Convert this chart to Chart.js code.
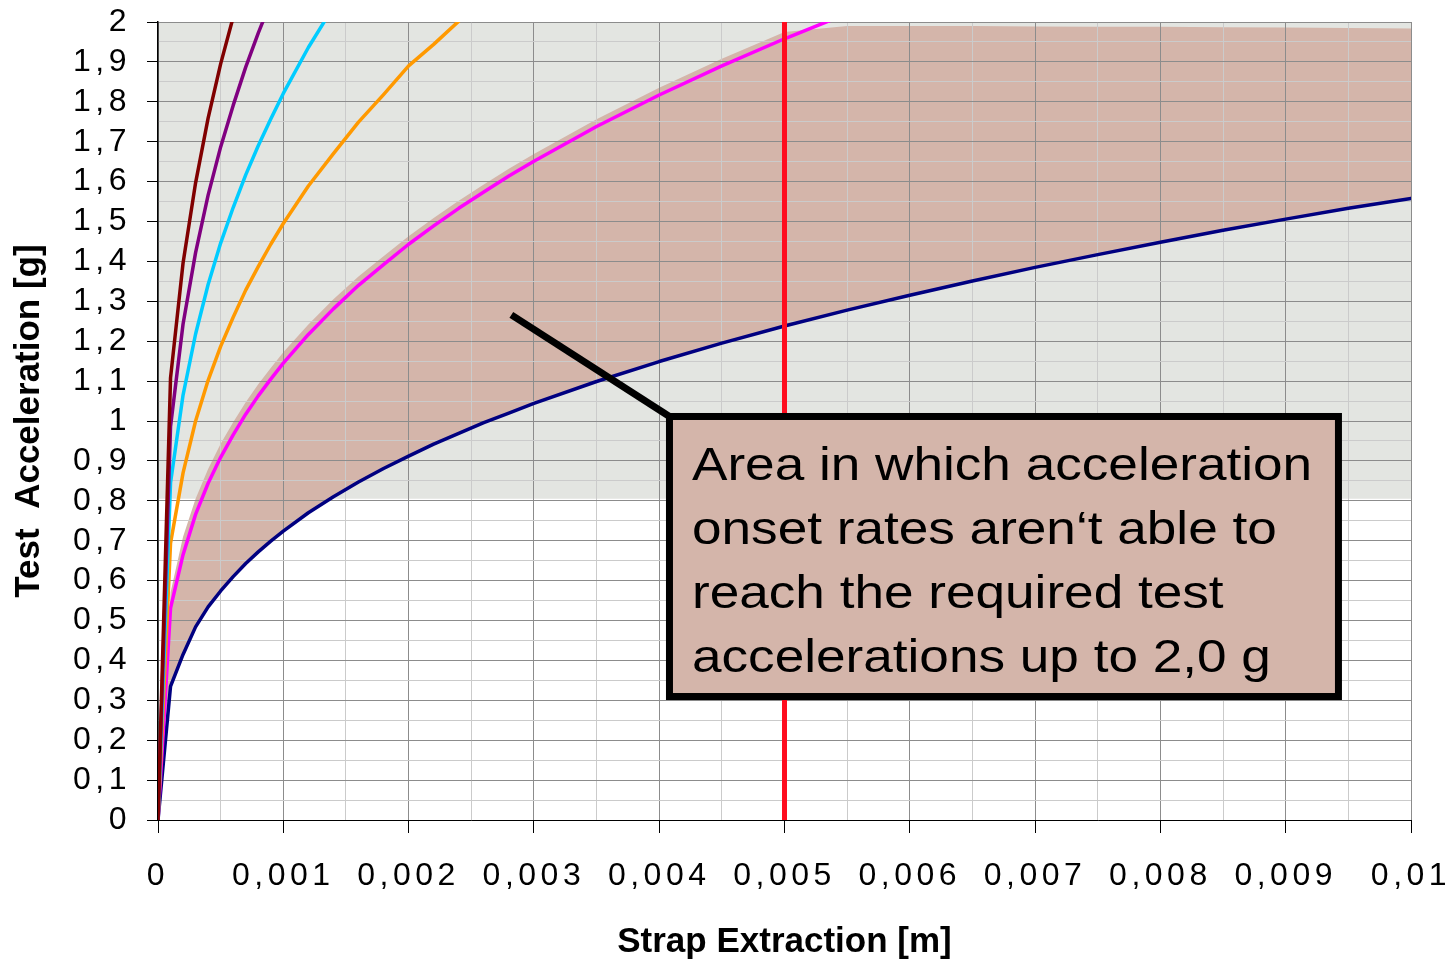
<html>
<head>
<style>body{margin:0;background:#fff}</style>
</head>
<body>
<canvas id="myChart" width="1450" height="963"></canvas>
<script src="https://cdn.jsdelivr.net/npm/chart.js@4.4.0/dist/chart.umd.min.js"></script>
<script>
// strap extraction [m] - shared x positions of the curves
const xs = [0, 0.0001, 0.0002, 0.0003, 0.0004, 0.0005, 0.0006, 0.0007, 0.0008, 0.0009,
            0.001, 0.0012, 0.0014, 0.0016, 0.0018, 0.002, 0.0022, 0.0024, 0.0026, 0.0028,
            0.003, 0.0035, 0.004, 0.0045, 0.005, 0.0055, 0.006, 0.0065, 0.007, 0.0075,
            0.008, 0.0085, 0.009, 0.0095, 0.01];

// test acceleration [g] (curves stop once past 2 g)
const yMaroon  = [0, 1.108, 1.396, 1.597, 1.759, 1.895, 2.012];
const yPurple  = [0, 0.986, 1.243, 1.422, 1.566, 1.687, 1.791, 1.887, 1.972, 2.051];
const yCyan    = [0, 0.845, 1.065, 1.218, 1.342, 1.446, 1.535, 1.617, 1.690, 1.757,
                  1.821, 1.936, 2.038];
const yOrange  = [0, 0.694, 0.870, 1.000, 1.102, 1.187, 1.260, 1.328, 1.387, 1.443,
                  1.495, 1.589, 1.670, 1.749, 1.818, 1.890, 1.944, 2.002];
const yMagenta = [0, 0.531, 0.665, 0.766, 0.844, 0.909, 0.965, 1.017, 1.063, 1.105,
                  1.145, 1.217, 1.281, 1.340, 1.392, 1.443, 1.489, 1.533, 1.574, 1.614,
                  1.651, 1.738, 1.817, 1.890, 1.958, 2.021];
const yNavy    = [0, 0.335, 0.415, 0.484, 0.534, 0.574, 0.610, 0.643, 0.672, 0.699,
                  0.724, 0.770, 0.810, 0.847, 0.881, 0.912, 0.942, 0.969, 0.996, 1.020,
                  1.044, 1.099, 1.149, 1.195, 1.238, 1.278, 1.315, 1.351, 1.385, 1.417,
                  1.448, 1.478, 1.506, 1.533, 1.558];
// upper edge of the shaded (brown) band, lower edge is the navy curve
const yBandTop = [0, 0.570, 0.710, 0.805, 0.880, 0.943, 0.997, 1.047, 1.092, 1.133,
                  1.172, 1.242, 1.305, 1.362, 1.413, 1.463, 1.509, 1.552, 1.593, 1.632,
                  1.669, 1.756, 1.835, 1.908, 1.975, 1.990, 1.990, 1.990, 1.989, 1.988,
                  1.988, 1.987, 1.986, 1.985, 1.984];

// grey zone 0,8..2 g and the red limit at 5 mm
const greyX = [0, 0.01];
const greyTop = [2, 2];
const greyBottom = [0.805, 0.805];
const redX = [0.005, 0.005];
const redY = [0, 2];

const xTickLabels = ['0', '0,001', '0,002', '0,003', '0,004', '0,005', '0,006', '0,007', '0,008', '0,009', '0,01'];
const yTickLabels = ['0', '0,1', '0,2', '0,3', '0,4', '0,5', '0,6', '0,7', '0,8', '0,9', '1',
                     '1,1', '1,2', '1,3', '1,4', '1,5', '1,6', '1,7', '1,8', '1,9', '2'];
const calloutText = ['Area in which acceleration', 'onset rates aren‘t able to',
                     'reach the required test', 'accelerations up to 2,0 g'];

function pts(ys, xv) {
    xv = xv || xs;
    return ys.map((v, i) => ({x: xv[i], y: v}));
}
function isMajor(v, f) { return Math.abs(v * f - Math.round(v * f)) < 1e-6; }

const FONT = '"Liberation Sans", Arial, sans-serif';
Chart.defaults.font.family = FONT;
Chart.defaults.color = '#000';

function line(data, color, w) {
    return {data: data, borderColor: color, borderWidth: w, pointRadius: 0, fill: false,
            borderJoinStyle: 'round', borderCapStyle: 'round'};
}
// fixed axis sizes so the plot area sits where it does in the picture
function fixSize(s, w, h) {
    if (w) s.width = w;
    if (h) s.height = h;
    s.paddingTop = 0; s.paddingBottom = 0; s.paddingLeft = 0; s.paddingRight = 0;
}

// tick labels in the picture are drawn with wide letter spacing
const tickSpacing = {
    id: 'tickSpacing',
    beforeDraw(chart) {
        Object.values(chart.scales).forEach(s => {
            if (s._spaced) return;
            const orig = s.drawLabels.bind(s);
            s.drawLabels = function(area) {
                chart.ctx.save();
                chart.ctx.letterSpacing = '4.5px';
                orig(area);
                chart.ctx.restore();
            };
            s._spaced = true;
        });
    }
};

// text box with its pointer
const callout = {
    id: 'callout',
    afterDatasetsDraw(chart) {
        const ctx = chart.ctx, sx = chart.scales.x, sy = chart.scales.y;
        const l = sx.getPixelForValue(0.004082), r = sx.getPixelForValue(0.009421);
        const t = sy.getPixelForValue(1.0113), b = sy.getPixelForValue(0.3095);
        ctx.save();
        ctx.strokeStyle = '#000';
        ctx.lineWidth = 7;
        ctx.beginPath();
        ctx.moveTo(sx.getPixelForValue(0.00282), sy.getPixelForValue(1.266));
        ctx.lineTo(l, t);
        ctx.stroke();
        ctx.fillStyle = '#d4b5aa';
        ctx.fillRect(l, t, r - l, b - t);
        ctx.strokeRect(l, t, r - l, b - t);
        ctx.fillStyle = '#000';
        ctx.font = '46px ' + FONT;
        ctx.textBaseline = 'alphabetic';
        calloutText.forEach((txt, i) => {
            ctx.save();
            ctx.translate(l + 22.5, t + 63.5 + i * 64);
            ctx.scale(1.155, 1);
            ctx.fillText(txt, 0, 0);
            ctx.restore();
        });
        ctx.restore();
    }
};

const ctx = document.getElementById('myChart').getContext('2d');
const myChart = new Chart(ctx, {
    type: 'line',
    data: {
        datasets: [
            line(pts(redY, redX), '#ff0d1f', 5),       // 0
            line(pts(yMaroon), '#800000', 3.5),        // 1
            line(pts(yPurple), '#800080', 3.5),        // 2
            line(pts(yCyan), '#00ccff', 3.5),          // 3
            line(pts(yOrange), '#ff9900', 3.5),        // 4
            line(pts(yMagenta), '#ff00ff', 3.5),       // 5
            line(pts(yNavy), '#000080', 3.5),          // 6
            {data: pts(yBandTop), borderWidth: 0, pointRadius: 0, backgroundColor: '#d4b5aa', fill: 6},
            {data: pts(greyTop, greyX), borderWidth: 0, pointRadius: 0, backgroundColor: '#e3e5e1', fill: 9},
            {data: pts(greyBottom, greyX), borderWidth: 0, pointRadius: 0, fill: false}
        ]
    },
    options: {
        responsive: false,
        animation: false,
        layout: {padding: {top: 22, right: 39, left: 0, bottom: 0}},
        plugins: {
            legend: {display: false},
            tooltip: {enabled: false},
            filler: {drawTime: 'beforeDraw', propagate: false}
        },
        scales: {
            x: {
                type: 'linear', min: 0, max: 0.01,
                afterFit(s) { fixSize(s, 0, 143); },
                ticks: {
                    stepSize: 0.0005, autoSkip: false, maxRotation: 0, padding: 24,
                    font: {size: 32},
                    callback: v => isMajor(v, 1000) ? xTickLabels[Math.round(v * 1000)] : ''
                },
                grid: {
                    color: c => isMajor(c.tick.value, 1000) ? '#8c8c8c' : '#cbcbcb',
                    tickColor: c => isMajor(c.tick.value, 1000) ? '#000' : 'rgba(0,0,0,0)',
                    tickLength: 13
                },
                border: {color: '#000', width: 1},
                title: {display: true, text: 'Strap Extraction [m]', font: {size: 35, weight: 'bold'},
                        padding: {top: 0, bottom: 0}}
            },
            y: {
                type: 'linear', min: 0, max: 2,
                afterFit(s) { fixSize(s, 158, 0); },
                ticks: {
                    stepSize: 0.05, autoSkip: false, padding: 16,
                    font: {size: 32},
                    callback: v => isMajor(v, 10) ? yTickLabels[Math.round(v * 10)] : ''
                },
                grid: {
                    color: c => isMajor(c.tick.value, 10) ? '#8c8c8c' : '#cbcbcb',
                    tickColor: c => isMajor(c.tick.value, 10) ? '#000' : 'rgba(0,0,0,0)',
                    tickLength: 11
                },
                border: {color: '#000', width: 1.5},
                title: {display: true, text: 'Test  Acceleration [g]', font: {size: 35, weight: 'bold'},
                        padding: {top: 8, bottom: 0}}
            }
        }
    },
    plugins: [tickSpacing, callout]
});
</script>
</body>
</html>
